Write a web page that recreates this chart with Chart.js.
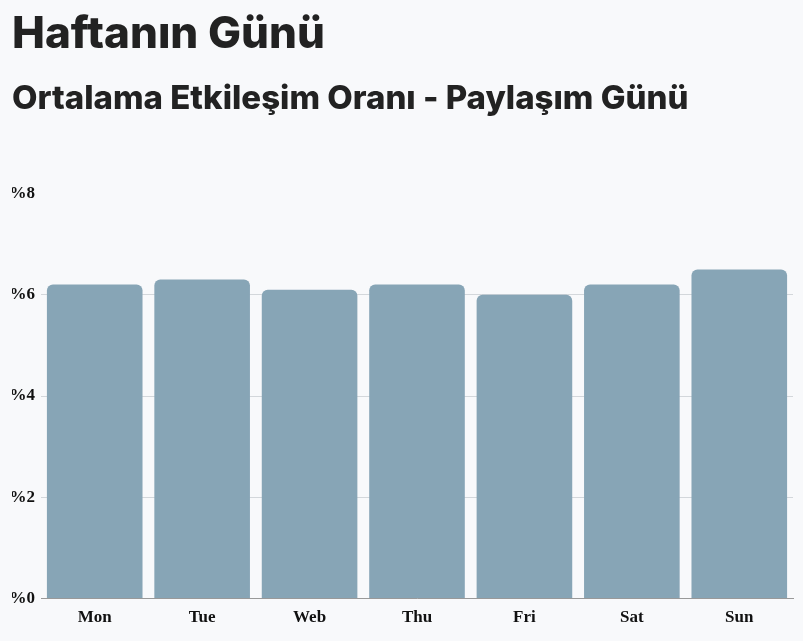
<!DOCTYPE html>
<html>
<head>
<meta charset="utf-8">
<script src="https://cdn.jsdelivr.net/npm/chart.js@4"></script>
<style>
html,body{margin:0;padding:0;background:#f8f9fb;}
#wrap{width:803px;height:641px;position:relative;}
</style>
</head>
<body>
<div id="wrap"><canvas id="c" width="803" height="641"></canvas></div>
<script>
const titleText = "Haftanın Günü";
const subtitleText = "Ortalama Etkileşim Oranı - Paylaşım Günü";
const days = ["Mon","Tue","Web","Thu","Fri","Sat","Sun"];
const engagement = [6.2, 6.3, 6.1, 6.2, 6.0, 6.2, 6.5];
const yTicks = [0, 2, 4, 6, 8];

const ctx = document.getElementById('c');
new Chart(ctx, {
  type: 'bar',
  data: {
    labels: days,
    datasets: [{
      data: engagement,
      backgroundColor: '#87a5b6',
      borderRadius: {topLeft: 6, topRight: 6},
      borderSkipped: 'bottom',
      categoryPercentage: 1,
      barPercentage: 0.89
    }]
  },
  options: {
    responsive: false,
    animation: false,
    devicePixelRatio: 1,
    layout: {padding: {left: 12, right: 10, top: 4, bottom: 12}},
    plugins: {
      legend: {display: false},
      tooltip: {enabled: false},
      title: {
        display: true, text: titleText, align: 'start', color: '#222222',
        font: {family: 'Inter', size: 44, weight: '800'},
        padding: {top: 4, bottom: 18}
      },
      subtitle: {
        display: true, text: subtitleText, align: 'start', color: '#222222',
        font: {family: 'Inter', size: 33, weight: '800'},
        padding: {top: 0, bottom: 75}
      }
    },
    scales: {
      x: {
        grid: {display: false},
        border: {display: true, color: '#999999', width: 1},
        ticks: {color: '#111', padding: 1, font: {family: 'Liberation Serif', size: 17, weight: 'bold'}}
      },
      y: {
        min: 0, max: 8,
        afterBuildTicks: (s) => { s.ticks = yTicks.map(v => ({value: v})); },
        afterFit: (s) => { s.width = 29; },
        grid: {color: (c) => (c.tick && c.tick.value === 8) ? 'rgba(0,0,0,0)' : '#d3d7db', drawTicks: false},
        border: {display: false},
        ticks: {color: '#111', padding: 6, font: {family: 'Liberation Serif', size: 17, weight: 'bold'},
          callback: (v) => '%' + v}
      }
    }
  }
});
</script>
</body>
</html>
